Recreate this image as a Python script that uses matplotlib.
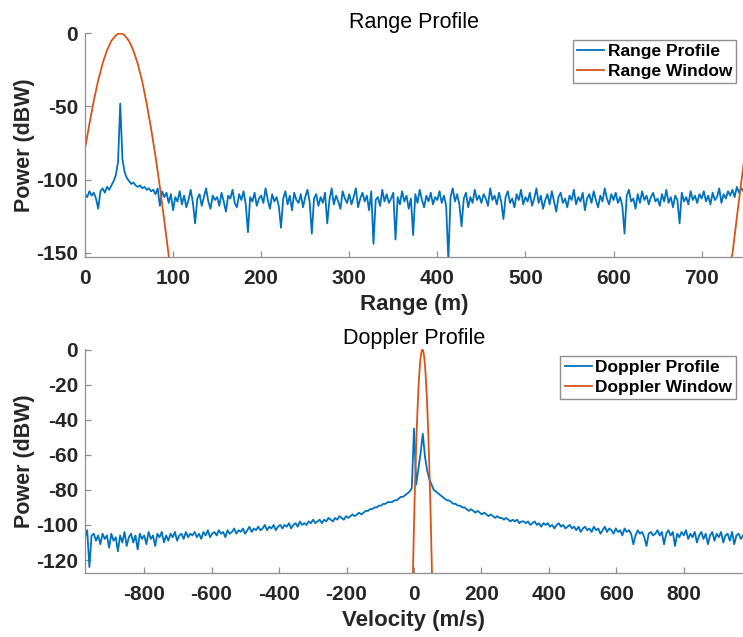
import numpy as np
import matplotlib
matplotlib.use('Agg')
import matplotlib.pyplot as plt

plt.rcParams['font.family'] = ['Liberation Sans', 'DejaVu Sans']
plt.rcParams['font.weight'] = 'bold'
plt.rcParams['axes.labelweight'] = 'bold'
plt.rcParams['axes.unicode_minus'] = False

# ---------------- data ----------------
range_step = 2.5
range_power = [
    -110, -112, -108, -111, -109, -113, -120, -108, -106, -109, -105, -107,
    -104, -101, -97, -88, -48,
    -86, -95, -99, -101, -103, -102, -104, -105, -104, -106, -105, -107, -106, -108, -107, -110, -106, -118, -108, -112, -109, -116, -110,
    -121, -112, -115, -108, -117, -111, -119, -114, -107, -116, -130, -113, -110, -118, -112, -106, -115, -120, -111, -114,
    -112, -118, -109, -115, -122, -111, -113, -107, -116, -119, -110, -114, -108, -117, -136, -112, -115, -109, -118, -113,
    -111, -116, -106, -114, -120, -110, -115, -112, -118, -133, -113, -108, -117, -111, -121, -109, -114, -116, -110, -119,
    -112, -107, -115, -137, -113, -110, -118, -112, -116, -109, -130, -114, -106, -117, -111, -115, -120, -108, -113, -116,
    -110, -117, -112, -106, -119, -113, -109, -115, -111, -121, -108, -144, -114, -112, -118, -107, -115, -110, -116, -113,
    -109, -141, -112, -117, -108, -115, -111, -120, -113, -138, -110, -116, -107, -114, -119, -111, -115, -109, -117, -112,
    -114, -108, -116, -111, -118, -155, -112, -106, -115, -110, -117, -132, -113, -109, -119, -112, -116, -107, -114, -111,
    -116, -110, -113, -118, -106, -114, -111, -117, -109, -115, -127, -112, -108, -116, -113, -119, -110, -114, -107, -117,
    -112, -115, -109, -118, -113, -106, -116, -111, -120, -114, -110, -117, -108, -115, -122, -112, -109, -116, -113, -119,
    -111, -114, -107, -117, -112, -115, -109, -121, -113, -110, -116, -108, -114, -119, -111, -115, -106, -113, -117, -110,
    -114, -109, -116, -112, -118, -137, -111, -107, -115, -113, -120, -110, -116, -108, -114, -111, -117, -112, -109, -115,
    -113, -118, -110, -115, -107, -116, -112, -119, -111, -114, -130, -109, -115, -112, -117, -108, -114, -111, -116, -110,
    -113, -108, -115, -111, -117, -109, -114, -112, -106, -116, -110, -113, -108, -111, -107, -112, -105, -109, -106, -108,
]
range_m = np.arange(len(range_power)) * range_step

# range window (main lobe, then wrapped lobe at the right edge; NaN splits them)
range_window_x = [0, 5, 10, 15, 20, 25, 30, 35, 37.5, 40, 42.5, 45, 50, 55, 60, 65, 70, 75, 80, 85, 90, 95, 100,
                  np.nan, 730, 735, 740, 745, 748]
range_window_db = [-79, -62, -46, -32, -20.5, -11.5, -5, -1.3, -0.3, 0, -0.3, -1.3, -5.2, -11.8, -21, -33, -48, -65, -84, -105, -128, -152, -178,
                   np.nan, -162, -151, -126, -102, -88]

doppler_power = [
    -107, -103, -124, -106, -105, -109, -106, -111, -105, -108,
    -106, -113, -105, -109, -107, -115, -106, -110, -104, -112,
    -107, -105, -110, -106, -114, -105, -108, -106, -111, -104,
    -108, -106, -112, -105, -107, -104, -110, -106, -109, -105,
    -107, -104, -109, -106, -105, -108, -104, -107, -105, -106,
    -104, -107, -105, -108, -104, -106, -103, -107, -105, -104,
    -106, -103, -105, -104, -107, -103, -105, -104, -102, -105,
    -103, -104, -102, -105, -103, -101, -104, -102, -103, -101,
    -103, -102, -100, -103, -101, -102, -100, -103, -101, -100,
    -102, -100, -101, -99, -102, -100, -99, -101, -98, -100,
    -99, -100, -98, -99, -97, -99, -98, -97, -99, -97,
    -98, -96, -97, -98, -96, -97, -95, -96, -97, -95,
    -96, -95, -94, -95, -94, -93, -94, -93, -92, -92,
    -91, -91, -90, -90, -89, -89, -88, -88, -87, -87,
    -87, -86, -86, -85, -84, -84, -83, -82, -81, -79,
    -45, -77, -68, -59, -48, -61, -69, -74, -77, -80,
    -81, -82, -83, -84, -85, -86, -86, -87, -88, -88,
    -89, -89, -90, -90, -91, -92, -91, -92, -93, -92,
    -93, -94, -93, -94, -95, -94, -95, -96, -95, -96,
    -96, -97, -96, -97, -98, -97, -98, -97, -99, -98,
    -98, -99, -98, -100, -99, -98, -100, -99, -101, -99,
    -100, -99, -101, -100, -102, -100, -99, -101, -100, -102,
    -101, -100, -102, -101, -103, -101, -104, -102, -101, -103,
    -102, -104, -101, -103, -102, -105, -103, -101, -104, -102,
    -103, -105, -102, -104, -103, -106, -102, -104, -103, -105,
    -111, -106, -103, -105, -104, -107, -112, -105, -104, -106,
    -105, -103, -106, -104, -111, -105, -103, -106, -104, -112,
    -105, -107, -104, -106, -103, -108, -105, -107, -104, -110,
    -106, -104, -108, -105, -111, -106, -104, -109, -105, -107,
    -104, -110, -106, -105, -109, -104, -111, -106, -105, -108,
    -106,
]
velocity = np.linspace(-975, 975, len(doppler_power))

doppler_window_x = [-5, -2.5, 0, 2.5, 5, 7.5, 10, 12.5, 15, 17.5, 20, 22.5, 25,
                    27.5, 30, 32.5, 35, 37.5, 40, 42.5, 45, 47.5, 50, 52.5, 55]
doppler_window_db = [-144, -121, -100, -81, -64, -49, -36, -25, -16, -9, -4, -1, 0,
                     -1, -4, -9, -16, -25, -36, -49, -64, -81, -100, -121, -144]

range_xticks = [0, 100, 200, 300, 400, 500, 600, 700]
range_yticks = [0, -50, -100, -150]
doppler_xticks = [-800, -600, -400, -200, 0, 200, 400, 600, 800]
doppler_yticks = [0, -20, -40, -60, -80, -100, -120]

# ---------------- figure ----------------
BLUE = '#0072BD'
ORANGE = '#D95319'
AXC = '#8f8f8f'
TXT = '#262626'

W, H = 743, 637
fig = plt.figure(figsize=(W / 100, H / 100), dpi=100)
ax1 = fig.add_axes([85 / W, 1 - 257 / H, 658 / W, 224 / H])
ax2 = fig.add_axes([85 / W, 1 - 573 / H, 658 / W, 224 / H])


def style(ax):
    for s in ['top', 'right']:
        ax.spines[s].set_visible(False)
    for s in ['left', 'bottom']:
        ax.spines[s].set_color(AXC)
        ax.spines[s].set_linewidth(0.9)
    ax.tick_params(direction='in', length=4.5, width=0.9, color=AXC,
                   labelsize=15, labelcolor=TXT)
    ax.tick_params(axis='x', pad=9)
    ax.tick_params(axis='y', pad=5)
    for lab in ax.get_xticklabels() + ax.get_yticklabels():
        lab.set_fontweight('bold')


legend_kw = dict(loc='upper right', prop={'weight': 'bold', 'size': 12.5}, frameon=True,
                 fancybox=False, edgecolor=AXC, framealpha=1, handlelength=1.55,
                 handletextpad=0.2, borderpad=0.25, labelspacing=0.28, borderaxespad=0.38)

ax1.plot(range_m, range_power, color=BLUE, lw=1.3, label='Range Profile')
ax1.plot(range_window_x, range_window_db, color=ORANGE, lw=1.3, label='Range Window')
ax1.set_xlim(0, 747)
ax1.set_ylim(-153, 0.3)
ax1.set_xticks(range_xticks)
ax1.set_yticks(range_yticks)
style(ax1)
ax1.set_title('Range Profile', fontsize=15.5, fontweight='normal', color='black', pad=2.5)
ax1.set_xlabel('Range (m)', fontsize=16, color=TXT, labelpad=4)
ax1.set_ylabel('Power (dBW)', fontsize=15.5, color=TXT, labelpad=1)
ax1.legend(**legend_kw)

ax2.plot(velocity, doppler_power, color=BLUE, lw=1.3, label='Doppler Profile')
ax2.plot(doppler_window_x, doppler_window_db, color=ORANGE, lw=1.3, label='Doppler Window')
ax2.set_xlim(-975, 975)
ax2.set_ylim(-127.4, 0.3)
ax2.set_xticks(doppler_xticks)
ax2.set_yticks(doppler_yticks)
style(ax2)
ax2.set_title('Doppler Profile', fontsize=15.5, fontweight='normal', color='black', pad=3)
ax2.set_xlabel('Velocity (m/s)', fontsize=16, color=TXT, labelpad=4)
ax2.set_ylabel('Power (dBW)', fontsize=15.5, color=TXT, labelpad=1)
ax2.legend(**legend_kw)

fig.savefig('out.png', dpi=100)
